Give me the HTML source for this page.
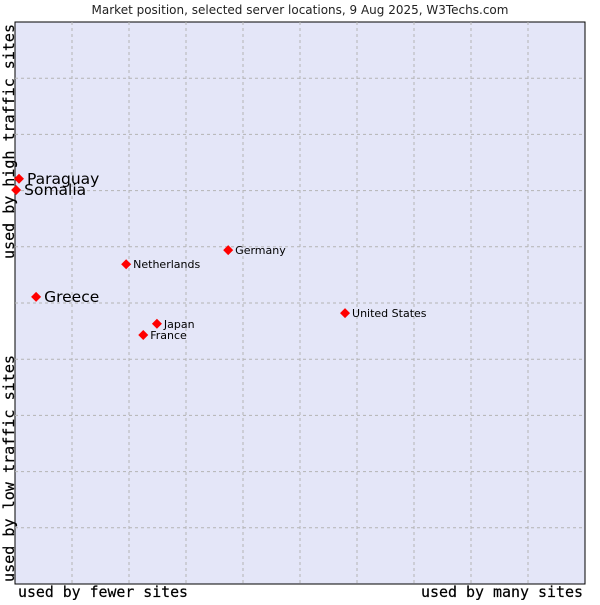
<!DOCTYPE html>
<html><head><meta charset="utf-8"><style>
body{margin:0;background:#fff;width:600px;height:600px;overflow:hidden}
svg text{font-family:"DejaVu Sans","Liberation Sans",sans-serif}
.mono{font-family:"DejaVu Sans Mono","Liberation Mono",monospace;font-size:15px;stroke:#000;stroke-width:0.2}
</style></head><body>
<svg id="chart" width="600" height="600">
<text x="300" y="14" text-anchor="middle" font-size="12" fill="#222">Market position, selected server locations, 9 Aug 2025, W3Techs.com</text>
<rect x="15" y="22" width="570" height="562" fill="#e4e6f8" stroke="#000" stroke-width="1"/>
<g id="grid"></g>
<g id="marks"></g>
<text class="mono" x="18" y="597" textLength="170" lengthAdjust="spacingAndGlyphs" fill="#000">used by fewer sites</text>
<text class="mono" x="421" y="597" textLength="162" lengthAdjust="spacingAndGlyphs" fill="#000">used by many sites</text>
<text class="mono" transform="translate(14,582) rotate(-90)" textLength="227" lengthAdjust="spacingAndGlyphs" fill="#000">used by low traffic sites</text>
<text class="mono" transform="translate(14,259) rotate(-90)" textLength="235" lengthAdjust="spacingAndGlyphs" fill="#000">used by high traffic sites</text>
</svg>
<script>
const countries=["Paraguay","Somalia","Greece","Netherlands","Germany","Japan","France","United States"];
const xValues=[0.7,0.2,3.7,19.5,37.4,24.9,22.5,57.9];
const yValues=[72.1,70.1,51.1,56.9,59.4,46.3,44.3,48.2];
const bigLabel=[true,true,true,false,false,false,false,false];
const gridTicks=[10,20,30,40,50,60,70,80,90];
const L=15,T=22,W=570,H=562;
const sx=v=>L+v/100*W, sy=v=>T+H-v/100*H;
const NS="http://www.w3.org/2000/svg";
const grid=document.getElementById('grid'),marks=document.getElementById('marks');
gridTicks.forEach(t=>{
 const a=document.createElementNS(NS,'line');
 a.setAttribute('x1',sx(t));a.setAttribute('x2',sx(t));a.setAttribute('y1',T);a.setAttribute('y2',T+H);
 a.setAttribute('stroke','#b4b4b4');a.setAttribute('stroke-dasharray','3,3');
 
 
 grid.appendChild(a);
 const b=document.createElementNS(NS,'line');
 b.setAttribute('y1',sy(t));b.setAttribute('y2',sy(t));b.setAttribute('x1',L);b.setAttribute('x2',L+W);
 b.setAttribute('stroke','#b4b4b4');b.setAttribute('stroke-dasharray','3,3');
 
 
 grid.appendChild(b);
});
countries.forEach((c,i)=>{
 const x=sx(xValues[i]),y=sy(yValues[i]);
 const p=document.createElementNS(NS,'polygon');
 p.setAttribute('points',`${x},${y-5} ${x+5},${y} ${x},${y+5} ${x-5},${y}`);
 p.setAttribute('fill','#f00');
 
 
 marks.appendChild(p);
 const t=document.createElementNS(NS,'text');
 t.setAttribute('x',x+(bigLabel[i]?8:7));t.setAttribute('y',y+(bigLabel[i]?5:4));
 t.setAttribute('font-size',bigLabel[i]?15.5:11);t.setAttribute('fill','#000');
 t.textContent=c;
 
 
 marks.appendChild(t);
});
</script>
</body></html>
